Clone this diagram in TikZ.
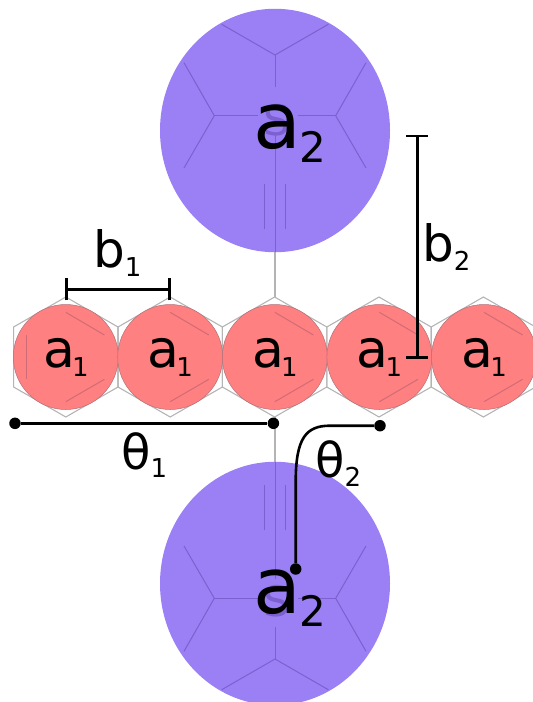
\documentclass[tikz,border=0pt]{standalone}
\usepackage{fontspec}
\setmainfont{DejaVu Sans}
\usetikzlibrary{shapes.geometric}
\definecolor{purp}{HTML}{9B80F5}
\definecolor{purpl}{HTML}{7C60D0}
\definecolor{redf}{HTML}{FF8080}
\definecolor{redl}{HTML}{D06C78}
\definecolor{hexg}{HTML}{B4B4B4}
\definecolor{edgeg}{HTML}{B07078}
\newcommand{\lab}[6]{{\fontsize{#2}{#2}\selectfont #1}\kern#5pt\raisebox{-#6pt}{\fontsize{#3}{#3}\selectfont #4}}
\tikzset{
 hexline/.style={draw=hexg,line width=1.1pt},
 redball/.style={circle,fill=redf,draw=edgeg,line width=0.5pt,inner sep=0pt,minimum size=105pt},
 purball/.style={ellipse,fill=purp,inner sep=0pt,minimum width=230pt,minimum height=243.5pt},
 redbond/.style={draw=redl,line width=1pt},
 purbond/.style={draw=purpl,line width=1pt},
 lbl/.style={anchor=base west,inner sep=0pt,text=black},
 measure/.style={draw=black,line width=2.6pt},
 dot/.style={circle,fill=black,inner sep=0pt,minimum size=11.5pt},
 sulfur/.style={text=purpl,inner sep=0pt,font=\fontsize{42}{42}\selectfont}
}
\begin{document}
\begin{tikzpicture}[x=1pt,y=-1pt]
\useasboundingbox (0,0) rectangle (533,702);
\clip (0,0) rectangle (533,702);
% hexagons
\foreach \c in {65.8,170.2,274.6,379,483.4}{
 \draw[hexline] (\c,297) -- (\c+52.2,327) -- (\c+52.2,387) -- (\c,417) -- (\c-52.2,387) -- (\c-52.2,327) -- cycle;
}
\draw[hexline] (275,297) -- (275,200);
\draw[hexline] (275,417) -- (275,520);
% balls
\node[redball] (r1) at (65.8,357) {};
\node[redball] (r2) at (170.2,357) {};
\node[redball] (r3) at (274.8,357) {};
\node[redball] (r4) at (379.4,357) {};
\node[redball] (r5) at (484,357) {};
\node[purball] (p1) at (275,130.5) {};
\node[purball] (p2) at (275,583.5) {};
% red double bonds
\foreach \c in {65.8,170.2,274.8,379.4,484}{
 \draw[redbond] (\c,312.3) -- (\c+38.6,335);
 \draw[redbond] (\c,401.7) -- (\c+38.6,379.3);
}
\draw[redbond] (26.7,335) -- (26.7,379.3);
% purple rings, top and bottom
\foreach \m/\s in {0/1,714/-1}{
 \draw[purbond] (221.7,\m+\s*24.3) -- (275,\m+\s*55) -- (328.3,\m+\s*24.3);
 \draw[purbond] (275,\m+\s*55) -- (275,\m+\s*87);
 \draw[purbond] (184,\m+\s*62.7) -- (214.3,\m+\s*115.7) -- (184,\m+\s*168);
 \draw[purbond] (366,\m+\s*62.7) -- (335.7,\m+\s*115.7) -- (366,\m+\s*168);
 \draw[purbond] (214.3,\m+\s*115.7) -- (258,\m+\s*115.7);
 \draw[purbond] (335.7,\m+\s*115.7) -- (298,\m+\s*115.7);
 \draw[purbond] (275,\m+\s*135) -- (275,\m+\s*252);
 \draw[purbond] (264.7,\m+\s*183.7) -- (264.7,\m+\s*229);
 \draw[purbond] (285.3,\m+\s*183.7) -- (285.3,\m+\s*229);
}
\node[sulfur] (s1) at (277,120) {S};
\node[sulfur] (s2) at (277,601) {S};
% labels
\foreach \c/\n in {43/a,147.4/b,252/c,356.6/d,461.2/e}{
 \node[lbl] (l\n) at (\c,367) {\lab{a}{52}{26}{1}{-3}{9}};
}
\node[lbl] (la2) at (253.3,148.3) {\lab{a}{78}{42}{2}{-1.5}{14}};
\node[lbl] (lb2) at (253.3,613.3) {\lab{a}{78}{42}{2}{-1.5}{13.5}};
\node[lbl] (tb1) at (93,267.7) {\lab{b}{50}{26}{1}{0}{9}};
\node[lbl] (tb2) at (422,261.7) {\lab{b}{50}{26}{2}{0}{9}};
\node[lbl] (tt1) at (121,469) {\lab{θ}{48}{26}{1}{0}{8.5}};
\node[lbl] (tt2) at (315,477) {\lab{θ}{48}{26}{2}{0}{9.5}};
% b1 bracket
\coordinate (b1l) at (66.3,289.3);
\coordinate (b1r) at (169.7,289.3);
\draw[measure] (b1l) -- (b1r);
\draw[measure] ([yshift=-11pt]b1l) -- ([yshift=11pt]b1l);
\draw[measure] ([yshift=-11pt]b1r) -- ([yshift=11pt]b1r);
% b2 bracket
\coordinate (b2t) at (417.3,136);
\coordinate (b2b) at (417.3,357.3);
\draw[measure] (b2t) -- (b2b);
\draw[measure] ([xshift=-11pt]b2t) -- ([xshift=11pt]b2t);
\draw[measure] ([xshift=-11pt]b2b) -- ([xshift=11pt]b2b);
% theta markers
\node[dot] (d1) at (15,423.3) {};
\node[dot] (d2) at (273.4,423.3) {};
\node[dot] (d3) at (380,425.7) {};
\node[dot] (d4) at (295.7,569) {};
\draw[measure] (d1) -- (d2);
\draw[measure] (d3) -- (330,425.7) .. controls (306,425.7) and (295.7,438) .. (295.7,482) -- (d4);
\end{tikzpicture}
\end{document}
